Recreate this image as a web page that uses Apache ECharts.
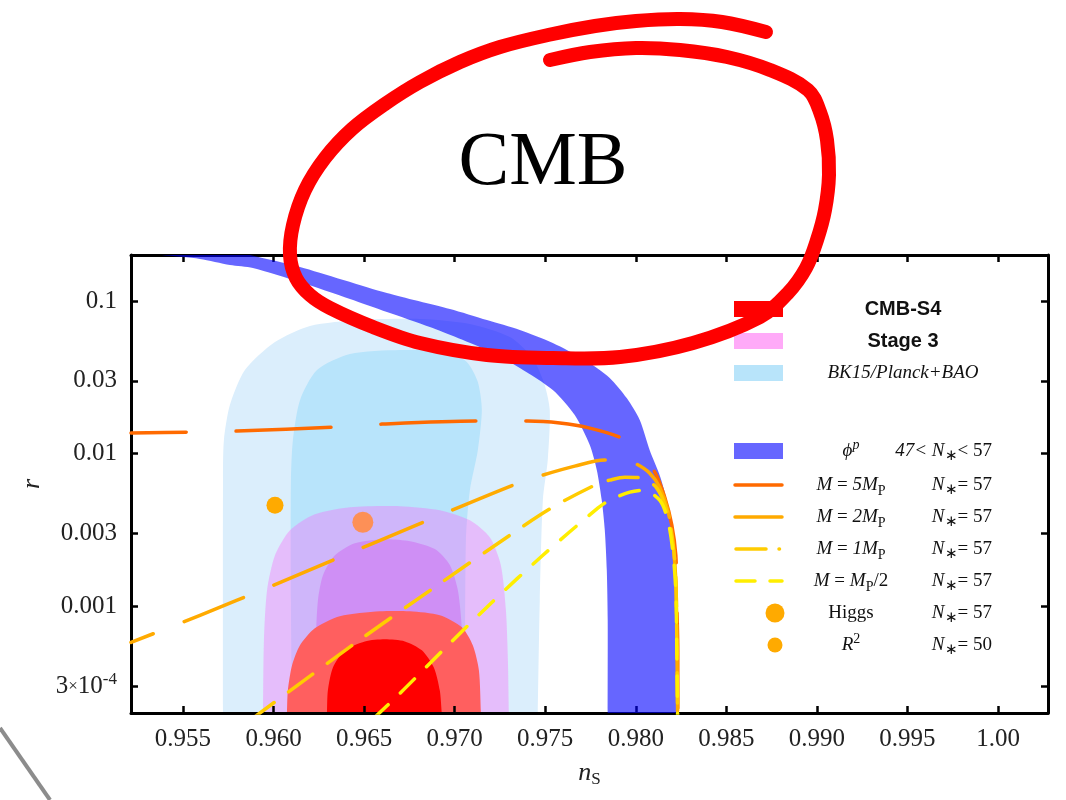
<!DOCTYPE html>
<html>
<head>
<meta charset="utf-8">
<title>r vs n_s</title>
<script src="https://cdn.jsdelivr.net/npm/echarts@6.0.0/dist/echarts.min.js"></script>
<style>
html,body{margin:0;padding:0;background:#ffffff;}
#chart{width:1066px;height:800px;}
</style>
</head>
<body>
<div id="chart"></div>
<script>
// ---------------- data (n_s, r) ----------------
const xTickValues = [0.955, 0.960, 0.965, 0.970, 0.975, 0.980, 0.985, 0.990, 0.995, 1.000];
const xTickLabels = ['0.955', '0.960', '0.965', '0.970', '0.975', '0.980', '0.985', '0.990', '0.995', '1.00'];
const yTickValues = [0.0003, 0.001, 0.003, 0.01, 0.03, 0.1];
const yTickLabels = ['3×10^-4', '0.001', '0.003', '0.01', '0.03', '0.1'];
const xRange = [0.95213, 1.00276];
const yRange = [0.0002, 0.2];

// BK15/Planck+BAO contours
const bk15Outer = [[0.95721,1.5e-4],[0.95721,0.0067],[0.95726,0.01226],[0.95759,0.0208],[0.95842,0.0353],[0.96008,0.0538],[0.96201,0.0686],[0.96477,0.0750],[0.96808,0.0762],[0.97084,0.0707],[0.97305,0.0581],[0.97426,0.0429],[0.97492,0.0294],[0.97525,0.0193],[0.97514,0.00907],[0.97487,0.00496],[0.97470,0.00109],[0.97459,1.5e-4]];
const bk15Inner = [[0.96102,1.5e-4],[0.96096,0.00109],[0.96096,0.0067],[0.96107,0.01226],[0.96146,0.0224],[0.96240,0.0353],[0.96422,0.0449],[0.96698,0.0477],[0.96957,0.0463],[0.97067,0.0398],[0.97128,0.0294],[0.97150,0.0193],[0.97128,0.01054],[0.97084,0.00576],[0.97062,0.00271],[0.97056,1.5e-4]];
// Stage 3 forecast
const stage3Outer = [[0.95942,1.5e-4],[0.95947,0.000598],[0.95964,0.00127],[0.96008,0.00216],[0.96091,0.00315],[0.96228,0.00401],[0.96422,0.00446],[0.96698,0.00453],[0.96918,0.00426],[0.97084,0.00366],[0.97194,0.00283],[0.97255,0.00186],[0.97283,0.000941],[0.97294,0.000442],[0.97299,1.5e-4]];
const stage3Inner = [[0.96234,1.5e-4],[0.96234,0.000598],[0.96245,0.00109],[0.96273,0.0016],[0.96339,0.00216],[0.96449,0.00259],[0.96615,0.00275],[0.96753,0.00267],[0.96891,0.00237],[0.96974,0.00186],[0.97018,0.00127],[0.97040,0.000696],[0.97046,1.5e-4]];
// CMB-S4 forecast
const s4Outer = [[0.96074,1.5e-4],[0.96079,0.000281],[0.96102,0.00041],[0.96146,0.000555],[0.96228,0.000717],[0.96366,0.00086],[0.96587,0.000927],[0.96753,0.000927],[0.96918,0.000873],[0.97040,0.000728],[0.97100,0.000555],[0.97134,0.00038],[0.97145,1.5e-4]];
const s4Inner = [[0.96295,1.5e-4],[0.96300,0.000281],[0.96328,0.000398],[0.96394,0.000515],[0.96504,0.000589],[0.96615,0.000608],[0.96725,0.000589],[0.96819,0.000515],[0.96885,0.000398],[0.96918,0.000281],[0.96929,1.5e-4]];
// phi^p band, 47 < N* < 57 (outer edge, then inner edge back)
const phiBand = [[0.95594,0.2329],[0.95870,0.2003],[0.96146,0.1671],[0.96626,0.1128],[0.96974,0.0886],[0.97178,0.0750],[0.97360,0.0645],[0.97542,0.0530],[0.97719,0.0410],[0.97856,0.0313],[0.97950,0.0231],[0.98022,0.01659],[0.98077,0.01054],[0.98132,0.00723],[0.98171,0.00496],[0.98204,0.00271],[0.98221,0.00148],[0.98226,0.000809],[0.98226,1.5e-4],
  [0.97845,1.5e-4],[0.97845,0.000809],[0.97840,0.00172],[0.97829,0.00315],[0.97812,0.00496],[0.97785,0.00779],[0.97746,0.01137],[0.97663,0.01789],[0.97542,0.0261],[0.97360,0.0364],[0.97178,0.0477],[0.96863,0.0675],[0.96626,0.0847],[0.96422,0.1031],[0.96146,0.1332],[0.95886,0.1646],[0.95759,0.1722],[0.95594,0.1886],[0.95384,0.2003],[0.95318,0.2160]];
// model curves, N* = 57
const curveM5 = [[0.95213,0.01363],[0.95539,0.01384],[0.95798,0.01405],[0.96339,0.01492],[0.96598,0.01561],[0.97139,0.01633],[0.97404,0.01633],[0.97581,0.01585],[0.97746,0.01469],[0.97922,0.01264],[0.98022,0.01023],[0.98105,0.00756],[0.98160,0.00518],[0.98199,0.0034],[0.98221,0.00216],[0.98226,0.00109],[0.98232,0.000515],[0.98232,1.5e-4]];
const curveM2 = [[0.95213,0.00058],[0.95594,0.000873],[0.95997,0.00137],[0.96339,0.00203],[0.96825,0.00355],[0.97321,0.00621],[0.97487,0.00723],[0.97663,0.00828],[0.97829,0.00907],[0.97939,0.00907],[0.98005,0.00853],[0.98077,0.00745],[0.98132,0.00603],[0.98177,0.00426],[0.98204,0.00271],[0.98221,0.00148],[0.98226,0.000696],[0.98232,1.5e-4]];
const curveM1 = [[0.95870,0.000179],[0.96079,0.000273],[0.96449,0.000572],[0.96880,0.00131],[0.97321,0.00301],[0.97542,0.00446],[0.97785,0.00631],[0.97856,0.0067],[0.97939,0.00701],[0.98039,0.00691],[0.98116,0.00594],[0.98171,0.00426],[0.98204,0.00271],[0.98221,0.00148],[0.98226,0.000696],[0.98232,1.5e-4]];
const curveMhalf = [[0.96532,0.000175],[0.96698,0.000269],[0.96935,0.000515],[0.97205,0.00106],[0.97487,0.00216],[0.97790,0.00439],[0.97856,0.00496],[0.97967,0.00559],[0.98039,0.00576],[0.98132,0.00496],[0.98177,0.00366],[0.98204,0.00233],[0.98221,0.00127],[0.98226,0.000598],[0.98232,1.5e-4]];
// single models
const higgsPoint = [[0.96493, 0.00355]];
const r2Point = [[0.96008, 0.00459]];

// legend texts
const legendContourLabels = ['CMB-S4', 'Stage 3', 'BK15/Planck+BAO'];
const legendModelLabels = ['{i|ϕ}{sup|p}', '{i|M}{r| = }{i|5M}{sub|P}', '{i|M}{r| = }{i|2M}{sub|P}', '{i|M}{r| = }{i|1M}{sub|P}', '{i|M}{r| = }{i|M}{sub|P}{r|/2}', '{r|Higgs}', '{i|R}{supr|2}'];
const legendEfoldLabels = ['{i|47< N}{ast|∗}{r|< 57}', '{i|N}{ast|∗}{r|= 57}', '{i|N}{ast|∗}{r|= 57}', '{i|N}{ast|∗}{r|= 57}', '{i|N}{ast|∗}{r|= 57}', '{i|N}{ast|∗}{r|= 57}', '{i|N}{ast|∗}{r|= 50}'];

// ---------------- styling ----------------
const serif = 'Liberation Serif';
const sans = 'Liberation Sans';
const L = v => Math.log10(v);
const C = {
  bkOuter: '#dbeefc', bkInner: '#b8e4fb',
  s3Outer: 'rgba(250,98,248,0.35)', s3Inner: '#cf8ff5',
  s4Outer: '#ff5f5f', s4Inner: '#ff0000',
  phi: 'rgba(0,0,255,0.6)',
  m5: '#ff6a00', m2: '#ffaa00', m1: '#ffcc00', mhalf: '#ffee00',
  point: '#ffaa00'
};

// clamp a screen polygon into the plot rectangle; points lying on the border are
// doubled so the bezier smoothing keeps sharp corners there
function clampToRect(points, r) {
  const out = [];
  points.forEach(p => {
    const q = [
      Math.min(Math.max(p[0], r.x), r.x + r.width),
      Math.min(Math.max(p[1], r.y), r.y + r.height)
    ];
    const onEdge = Math.abs(q[1] - r.y - r.height) < 0.01 || Math.abs(q[1] - r.y) < 0.01 ||
                   Math.abs(q[0] - r.x) < 0.01 || Math.abs(q[0] - r.x - r.width) < 0.01;
    out.push(q);
    if (onEdge) out.push([q[0], q[1]]);
  });
  return out;
}
function areaSeries(name, pts, fill, z) {
  return {
    name: name, type: 'custom', coordinateSystem: 'cartesian2d', clip: true, silent: true, z: z,
    data: pts.map(p => [p[0], L(p[1])]),
    renderItem: function (params, api) {
      if (params.dataIndex !== 0) return { type: 'group', children: [] };
      const cs = params.coordSys;
      const poly = pts.map(p => api.coord([p[0], L(p[1])]));
      return {
        type: 'polygon',
        shape: { points: clampToRect(poly, cs), smooth: 0.25 },
        style: { fill: fill }
      };
    }
  };
}
function lineSeries(name, pts, color, dash, offset) {
  return {
    name: name, type: 'line', z: 10, silent: true, clip: true,
    data: pts.map(p => [p[0], L(p[1])]),
    showSymbol: false, symbol: 'none', smooth: 0.3,
    lineStyle: { color: color, width: 3.5, type: dash, dashOffset: offset, cap: 'round', join: 'round' }
  };
}
function pointSeries(name, pts, size) {
  return {
    name: name, type: 'scatter', z: 3, silent: true,
    data: pts.map(p => [p[0], L(p[1])]),
    symbol: 'circle', symbolSize: size,
    itemStyle: { color: C.point, opacity: 1 }
  };
}

function fmtX(v) {
  const i = xTickValues.findIndex(t => Math.abs(t - v) < 1e-9);
  return i >= 0 ? xTickLabels[i] : '';
}
function fmtY(v) {
  const i = yTickValues.findIndex(t => Math.abs(L(t) - v) < 1e-6);
  const s = i >= 0 ? yTickLabels[i] : '';
  if (s.indexOf('^') >= 0) {
    const parts = s.split('^');
    const bm = parts[0].split('×');
    return '{a|' + bm[0] + '}{t|×}{a|' + bm[1] + '}{e|' + parts[1] + '}';
  }
  return '{a|' + s + '}';
}

const axisLineStyle = { show: true, onZero: false, lineStyle: { color: '#000', width: 3 } };
function tickStyle(vals) {
  return { show: true, inside: true, length: 7, customValues: vals, lineStyle: { color: '#000', width: 2.5 } };
}
const yTickLog = yTickValues.map(L);

// legend graphics
const legendGraphics = [];
const rowsA = [309, 341, 373];
const rowsB = [451, 485, 517, 549, 581, 613, 645];
const patchColorsA = ['#ff0000', '#ffaaf8', '#b8e4fa'];
legendContourLabels.forEach((lab, k) => {
  legendGraphics.push({ type: 'rect', z: 50, shape: { x: 734, y: rowsA[k] - 8, width: 49, height: 16 }, style: { fill: patchColorsA[k] } });
  const italic = k === 2;
  legendGraphics.push({ type: 'text', z: 50, style: {
    x: 903, y: rowsA[k], text: lab, align: 'center', textAlign: 'center', verticalAlign: 'middle', textVerticalAlign: 'middle',
    fill: '#111', fontFamily: italic ? serif : sans, fontWeight: italic ? 'normal' : 'bold', fontStyle: italic ? 'italic' : 'normal', fontSize: italic ? 19 : 20
  } });
});
legendGraphics.push({ type: 'rect', z: 50, shape: { x: 734, y: rowsB[0] - 8, width: 49, height: 16 }, style: { fill: '#6666ff' } });
legendGraphics.push({ type: 'line', z: 50, shape: { x1: 735, y1: rowsB[1], x2: 782, y2: rowsB[1] }, style: { stroke: C.m5, lineWidth: 3.5, lineCap: 'round' } });
legendGraphics.push({ type: 'line', z: 50, shape: { x1: 735, y1: rowsB[2], x2: 782, y2: rowsB[2] }, style: { stroke: C.m2, lineWidth: 3.5, lineCap: 'round' } });
legendGraphics.push({ type: 'line', z: 50, shape: { x1: 736, y1: rowsB[3], x2: 783, y2: rowsB[3] }, style: { stroke: C.m1, lineWidth: 3.5, lineCap: 'round', lineDash: [30, 13, 0.5, 20] } });
legendGraphics.push({ type: 'line', z: 50, shape: { x1: 736, y1: rowsB[4], x2: 782, y2: rowsB[4] }, style: { stroke: C.mhalf, lineWidth: 3.5, lineCap: 'round', lineDash: [19, 15] } });
legendGraphics.push({ type: 'circle', z: 50, shape: { cx: 775, cy: rowsB[5], r: 9.5 }, style: { fill: C.point } });
legendGraphics.push({ type: 'circle', z: 50, shape: { cx: 775, cy: rowsB[6], r: 7.5 }, style: { fill: C.point } });
const legRich = {
  i: { fontFamily: serif, fontSize: 19, fontStyle: 'italic', lineHeight: 26, fill: '#111' },
  r: { fontFamily: serif, fontSize: 19, lineHeight: 26, fill: '#111' },
  sub: { fontFamily: serif, fontSize: 14, lineHeight: 14, verticalAlign: 'bottom', fill: '#111' },
  ast: { fontFamily: serif, fontSize: 15, lineHeight: 14, verticalAlign: 'bottom', fill: '#111' },
  sup: { fontFamily: serif, fontSize: 14, fontStyle: 'italic', lineHeight: 14, verticalAlign: 'top', fill: '#111' },
  supr: { fontFamily: serif, fontSize: 14, lineHeight: 14, verticalAlign: 'top', fill: '#111' }
};
legendModelLabels.forEach((lab, k) => {
  legendGraphics.push({ type: 'text', z: 50, style: {
    x: 851, y: rowsB[k], text: lab, rich: legRich, align: 'center', textAlign: 'center', verticalAlign: 'middle', textVerticalAlign: 'middle',
    fill: '#111', fontFamily: serif, fontSize: 19
  } });
  legendGraphics.push({ type: 'text', z: 50, style: {
    x: 992, y: rowsB[k], text: legendEfoldLabels[k], rich: legRich, align: 'right', textAlign: 'right', verticalAlign: 'middle', textVerticalAlign: 'middle',
    fill: '#111', fontFamily: serif, fontSize: 19
  } });
});

// hand-drawn annotation
const annotationPath = [[766,32],[722,22],[680,19],[636,21],[595,26],[548,35],[500,47],[460,62],[420,82],[385,104],[352,129],[325,158],[305,190],[293,225],[290,255],[296,278],[310,295],[330,308],[373,327],[420,343],[487,355],[553,358],[620,357],[693,343],[760,317],[788,293],[806,268],[817,240],[825,210],[829,175],[827,140],[820,112],[808,90],[770,70],[727,57],[680,50],[636,48],[590,52],[550,60]];

const chart = echarts.init(document.getElementById('chart'), null, { renderer: 'canvas' });
chart.setOption({
  animation: false,
  backgroundColor: '#ffffff',
  grid: { left: 131, right: 18, top: 255, bottom: 87, containLabel: false },
  xAxis: [
    {
      type: 'value', position: 'bottom', min: xRange[0], max: xRange[1], z: 8,
      axisLine: axisLineStyle, axisTick: tickStyle(xTickValues), splitLine: { show: false },
      axisLabel: { customValues: xTickValues, formatter: fmtX, fontFamily: serif, fontSize: 25, color: '#222', margin: 14 },
      name: '{n|n}{s|S}', nameLocation: 'middle', nameGap: 45,
      nameTextStyle: { rich: {
        n: { fontFamily: serif, fontStyle: 'italic', fontSize: 26, lineHeight: 30, color: '#222' },
        s: { fontFamily: serif, fontSize: 17, lineHeight: 16, verticalAlign: 'bottom', color: '#222' }
      } }
    },
    {
      type: 'value', position: 'top', min: xRange[0], max: xRange[1], z: 8,
      axisLine: axisLineStyle, axisTick: tickStyle(xTickValues), splitLine: { show: false },
      axisLabel: { show: false }
    }
  ],
  yAxis: [
    {
      type: 'value', position: 'left', min: L(yRange[0]), max: L(yRange[1]), z: 8,
      axisLine: axisLineStyle, axisTick: tickStyle(yTickLog), splitLine: { show: false },
      axisLabel: { customValues: yTickLog, formatter: fmtY, margin: 14, rich: {
        a: { fontFamily: serif, fontSize: 25, lineHeight: 30, color: '#222' },
        t: { fontFamily: serif, fontSize: 17, color: '#222' },
        e: { fontFamily: serif, fontSize: 17, lineHeight: 17, verticalAlign: 'top', color: '#222' }
      } },
      name: 'r', nameLocation: 'middle', nameGap: 86,
      nameTextStyle: { fontFamily: serif, fontStyle: 'italic', fontSize: 26, color: '#222' }
    },
    {
      type: 'value', position: 'right', min: L(yRange[0]), max: L(yRange[1]), z: 8,
      axisLine: axisLineStyle, axisTick: tickStyle(yTickLog), splitLine: { show: false },
      axisLabel: { show: false }
    }
  ],
  series: [
    areaSeries('BK15/Planck+BAO 95%', bk15Outer, C.bkOuter, 1),
    areaSeries('BK15/Planck+BAO 68%', bk15Inner, C.bkInner, 2),
    pointSeries('Higgs', higgsPoint, 21),
    pointSeries('R2', r2Point, 17),
    areaSeries('Stage 3 95%', stage3Outer, C.s3Outer, 4),
    areaSeries('Stage 3 68%', stage3Inner, C.s3Inner, 5),
    areaSeries('CMB-S4 95%', s4Outer, C.s4Outer, 6),
    areaSeries('CMB-S4 68%', s4Inner, C.s4Inner, 7),
    areaSeries('phi^p', phiBand, C.phi, 9),
    lineSeries('M = 5 MP', curveM5, C.m5, [95, 50], 40),
    lineSeries('M = 2 MP', curveM2, C.m2, [64, 33], 40),
    lineSeries('M = 1 MP', curveM1, C.m1, [30, 18], 0),
    lineSeries('M = MP/2', curveMhalf, C.mhalf, [20, 17], 32)
  ],
  graphic: { elements: legendGraphics.concat([
    { type: 'text', z: 90, style: { x: 543, y: 164, text: 'CMB', align: 'center', textAlign: 'center', verticalAlign: 'middle', textVerticalAlign: 'middle', fill: '#000', fontFamily: serif, fontSize: 76 } },
    { type: 'polyline', z: 100, shape: { points: annotationPath, smooth: 0.35 }, style: { stroke: '#ff0000', fill: null, lineWidth: 14, lineCap: 'round', lineJoin: 'round' } },
    { type: 'line', z: 100, shape: { x1: 0, y1: 728, x2: 50, y2: 800 }, style: { stroke: '#8c8c8c', lineWidth: 4 } }
  ]) }
});
</script>
</body>
</html>
